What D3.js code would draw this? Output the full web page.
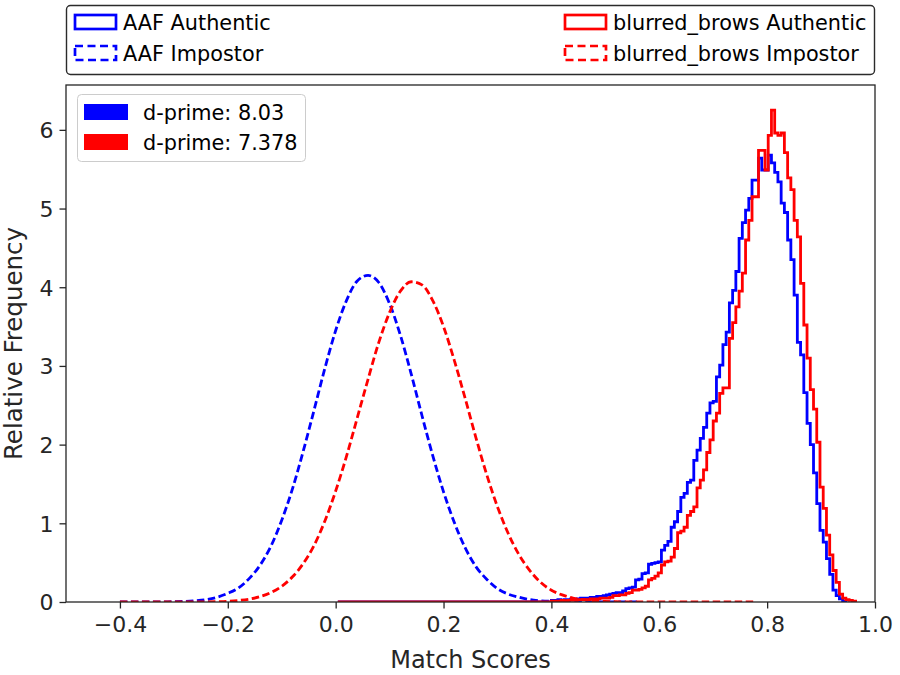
<!DOCTYPE html>
<html>
<head>
<meta charset="utf-8">
<script src="https://cdn.jsdelivr.net/npm/d3@7"></script>
<style>
  html, body { margin: 0; padding: 0; background: #fff; }
  svg { display: block; font-family: "DejaVu Sans", sans-serif; }
</style>
</head>
<body>
<svg id="chart" width="900" height="675"></svg>
<script>
// ---------------- data ----------------
const xTicks = [-0.4, -0.2, 0.0, 0.2, 0.4, 0.6, 0.8, 1.0];
const yTicks = [0, 1, 2, 3, 4, 5, 6];

// authentic histograms (bin width 0.006 starting at 0.400)
const authBinStart = 0.400;
const authBinWidth = 0.006;
const authZeroFrom = 0.004; // empty bins drawn along the baseline from here
const aafAuthentic = [
  0.02,0.02,0.03,0.02,0.03,0.03,0.04,0.03,0.04,0.05,
  0.05,0.05,0.06,0.06,0.07,0.07,0.08,0.09,0.10,0.11,
  0.12,0.12,0.14,0.17,0.18,0.19,0.28,0.29,0.36,0.37,
  0.48,0.49,0.50,0.51,0.66,0.72,0.77,0.95,1.02,1.15,
  1.33,1.38,1.52,1.55,1.80,1.93,2.08,2.22,2.40,2.53,
  2.55,2.86,3.01,3.27,3.43,3.80,3.96,4.20,4.62,4.82,
  4.98,5.13,5.36,5.36,5.64,5.49,5.49,5.68,5.58,5.46,
  5.34,5.07,4.95,4.60,4.35,3.90,3.30,3.14,2.66,2.27,
  2.00,1.64,1.25,0.91,0.76,0.55,0.35,0.15,0.08,0.04,
  0.01
];
const blurredAuthentic = [
  0.01,0.01,0.01,0.02,0.01,0.02,0.02,0.02,0.03,0.03,
  0.03,0.03,0.04,0.04,0.04,0.05,0.05,0.05,0.06,0.08,
  0.08,0.09,0.09,0.11,0.12,0.15,0.15,0.16,0.18,0.20,
  0.28,0.30,0.33,0.37,0.47,0.51,0.52,0.57,0.68,0.88,
  0.90,0.95,1.10,1.15,1.21,1.45,1.55,1.68,1.90,2.06,
  2.30,2.40,2.65,2.72,2.72,3.35,3.55,3.75,3.95,4.18,
  4.60,4.85,5.15,5.15,5.74,5.74,5.49,5.93,6.25,5.96,
  5.93,5.96,5.71,5.39,5.24,4.85,4.64,4.05,3.52,3.10,
  2.70,2.45,2.03,1.46,1.19,0.85,0.60,0.40,0.25,0.10,
  0.05,0.03,0.02,0.01
];

// impostor distributions (sampled every 0.02 starting at -0.40)
const impStart = -0.40;
const impStep = 0.02;
const aafImpostor = [
  0,0,0,0.001,0.002,0.004,0.008,0.016,0.03,0.06,
  0.11,0.18,0.30,0.47,0.71,1.04,1.44,1.92,2.44,2.97,
  3.45,3.83,4.08,4.15,4.06,3.79,3.39,2.90,2.37,1.86,
  1.40,1.01,0.69,0.45,0.29,0.17,0.10,0.06,0.03,0.016,
  0.008,0.004,0.002,0.001,0,0,0,0,0
];
const blurredImpostor = [
  0,0,0,0,0,0,0.001,0.001,0.002,0.005,
  0.01,0.02,0.037,0.068,0.12,0.20,0.32,0.49,0.72,1.03,
  1.41,1.85,2.34,2.83,3.30,3.68,3.95,4.07,4.03,3.83,
  3.50,3.07,2.59,2.09,1.62,1.21,0.87,0.60,0.40,0.25,
  0.15,0.09,0.05,0.03,0.014,0.007,0.003,0.002,0.001,0.001,
  0.001,0.001,0.001,0.001,0.001,0.001,0.001,0.001,0.001,0.001
];

const seriesLabels = ["AAF Authentic", "AAF Impostor", "blurred_brows Authentic", "blurred_brows Impostor"];
const dprimeLabels = ["d-prime: 8.03", "d-prime: 7.378"];
const colors = ["#0000ff", "#ff0000"];

// ---------------- layout ----------------
const svg = d3.select("#chart");
const L = 66, R = 875, T = 85, B = 602;
const x = d3.scaleLinear().domain([-0.5, 1.0]).range([L, R]);
const y = d3.scaleLinear().domain([0, 6.57]).range([B, T]);
const dark = "#262626";

svg.append("defs").append("clipPath").attr("id", "clip")
  .append("rect").attr("x", L).attr("y", T).attr("width", R - L).attr("height", B - T);

const plot = svg.append("g").attr("clip-path", "url(#clip)");

function stepPath(values) {
  const p = d3.path();
  p.moveTo(x(authZeroFrom), y(0));
  p.lineTo(x(authBinStart), y(0));
  values.forEach((v, i) => {
    const x0 = authBinStart + i * authBinWidth;
    const x1 = x0 + authBinWidth;
    p.lineTo(x(x0), y(v));
    p.lineTo(x(x1), y(v));
  });
  const xe = authBinStart + values.length * authBinWidth;
  p.lineTo(x(xe), y(0));
  return p.toString();
}

const impLine = d3.line()
  .x((d, i) => x(impStart + i * impStep))
  .y(d => y(d))
  .curve(d3.curveMonotoneX);

const lw = 2.8;
const dashes = "7.5,3.5";
// AAF
plot.append("path").attr("d", stepPath(aafAuthentic))
  .attr("fill", "none").attr("stroke", colors[0]).attr("stroke-width", lw).attr("stroke-linejoin", "miter");
plot.append("path").attr("d", impLine(aafImpostor))
  .attr("fill", "none").attr("stroke", colors[0]).attr("stroke-width", lw).attr("stroke-dasharray", dashes);
// blurred
plot.append("path").attr("d", stepPath(blurredAuthentic))
  .attr("fill", "none").attr("stroke", colors[1]).attr("stroke-width", lw).attr("stroke-linejoin", "miter");
plot.append("path").attr("d", impLine(blurredImpostor))
  .attr("fill", "none").attr("stroke", colors[1]).attr("stroke-width", lw).attr("stroke-dasharray", dashes);

// ---------------- axes ----------------
const xAxis = svg.append("g").attr("transform", `translate(0,${B})`)
  .call(d3.axisBottom(x).tickValues(xTicks).tickFormat(d3.format(".1f")).tickSize(6.5).tickPadding(8).tickSizeOuter(0));
const yAxis = svg.append("g").attr("transform", `translate(${L},0)`)
  .call(d3.axisLeft(y).tickValues(yTicks).tickFormat(d3.format("d")).tickSize(6.5).tickPadding(6).tickSizeOuter(0));
[xAxis, yAxis].forEach(g => {
  g.select(".domain").remove();
  g.selectAll("line").attr("stroke", dark).attr("stroke-width", 1.3);
  g.selectAll("text").attr("fill", dark).style("font-size", "22px").style("font-family", "DejaVu Sans");
});
yAxis.selectAll("text").attr("dy", "0.36em");

svg.append("rect").attr("x", L).attr("y", T).attr("width", R - L).attr("height", B - T)
  .attr("fill", "none").attr("stroke", dark).attr("stroke-width", 1.3);

svg.append("text").attr("x", (L + R) / 2).attr("y", 668).attr("text-anchor", "middle")
  .style("font-size", "24px").attr("fill", dark).text("Match Scores");
svg.append("text").attr("transform", `translate(22,${(T + B) / 2}) rotate(-90)`).attr("text-anchor", "middle")
  .style("font-size", "24.5px").attr("fill", dark).text("Relative Frequency");

// ---------------- top legend ----------------
const lg = svg.append("g");
lg.append("rect").attr("x", 66.5).attr("y", 5.5).attr("width", 808).attr("height", 69).attr("rx", 4)
  .attr("fill", "#fff").attr("stroke", "#2b2b2b").attr("stroke-width", 1.4);
const legendItems = [
  { label: seriesLabels[0], color: colors[0], dash: null, px: 75, ty: 30 },
  { label: seriesLabels[1], color: colors[0], dash: "8,4.5", px: 75, ty: 61 },
  { label: seriesLabels[2], color: colors[1], dash: null, px: 565, ty: 30 },
  { label: seriesLabels[3], color: colors[1], dash: "8,4.5", px: 565, ty: 61 }
];
legendItems.forEach(it => {
  lg.append("rect").attr("x", it.px).attr("y", it.ty - 15).attr("width", 41).attr("height", 14)
    .attr("fill", "none").attr("stroke", it.color).attr("stroke-width", 2.7)
    .attr("stroke-dasharray", it.dash);
  lg.append("text").attr("x", it.px + 48).attr("y", it.ty).style("font-size", "20.8px")
    .attr("fill", "#000").text(it.label);
});

// ---------------- d-prime legend ----------------
const dg = svg.append("g");
dg.append("rect").attr("x", 77.5).attr("y", 94.5).attr("width", 228).attr("height", 67).attr("rx", 4)
  .attr("fill", "#fff").attr("stroke", "#cccccc").attr("stroke-width", 1);
dprimeLabels.forEach((lab, i) => {
  const ty = 120 + i * 30;
  dg.append("rect").attr("x", 84).attr("y", ty - 16).attr("width", 44).attr("height", 16)
    .attr("fill", colors[i]);
  dg.append("text").attr("x", 143).attr("y", ty).style("font-size", "20.8px")
    .attr("fill", "#000").text(lab);
});
</script>
</body>
</html>
